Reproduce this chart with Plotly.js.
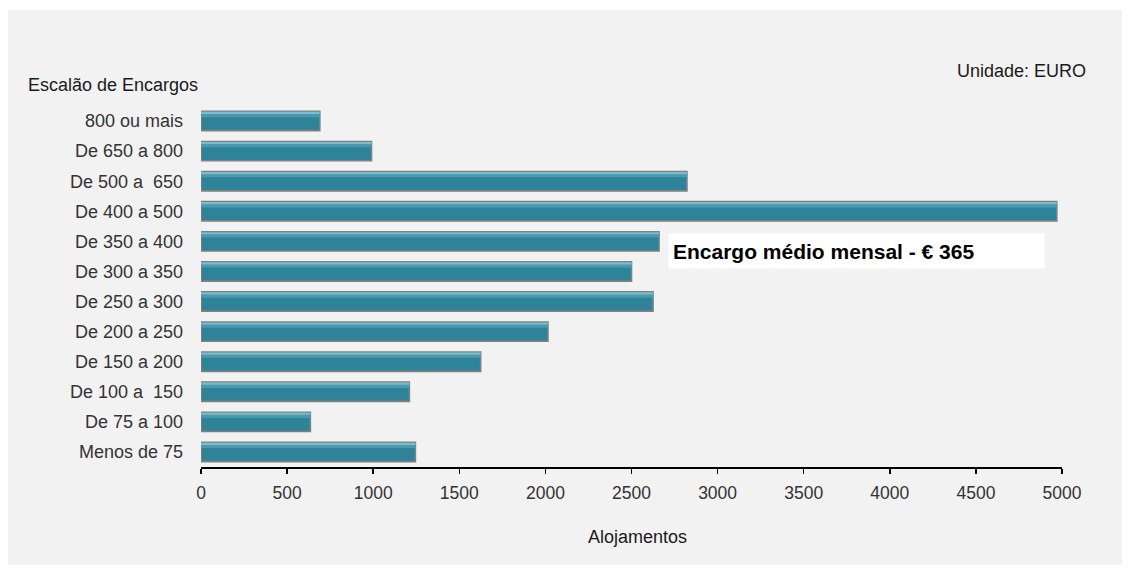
<!DOCTYPE html>
<html>
<head>
<meta charset="utf-8">
<script src="https://cdn.plot.ly/plotly-3.0.1.min.js"></script>
<style>
  html, body { margin: 0; padding: 0; background: #ffffff; }
  #chart { position: absolute; left: 8px; top: 10px; width: 1114px; height: 555px; }
</style>
</head>
<body>
<div id="chart"></div>
<script>
// Categories (bottom to top)
const categories = [
  "Menos de 75", "De 75 a 100", "De 100 a  150", "De 150 a 200", "De 200 a 250",
  "De 250 a 300", "De 300 a 350", "De 350 a 400", "De 400 a 500", "De 500 a  650",
  "De 650 a 800", "800 ou mais"
];
// Alojamentos (number of dwellings)
const alojamentos = [1245, 635, 1210, 1624, 2015, 2625, 2500, 2660, 4970, 2822, 990, 690];
const xTicks = [0, 500, 1000, 1500, 2000, 2500, 3000, 3500, 4000, 4500, 5000];

const font = "Liberation Sans, Arial, sans-serif";

const mainBars = {
  type: "bar", orientation: "h",
  y: categories, x: alojamentos,
  width: 0.64,
  marker: { color: "#2e8399", line: { color: "#808080", width: 1.6 } },
  hoverinfo: "x+y"
};
const hiBand1 = {
  type: "bar", orientation: "h",
  y: categories, x: alojamentos,
  width: 0.12, offset: 0.13,
  marker: { color: "#4a99ae", line: { width: 0 } },
  hoverinfo: "skip"
};
const hiBand2 = {
  type: "bar", orientation: "h",
  y: categories, x: alojamentos,
  width: 0.07, offset: 0.235,
  marker: { color: "#7dbccc", line: { width: 0 } },
  hoverinfo: "skip"
};

const layout = {
  width: 1114, height: 555,
  paper_bgcolor: "#f2f2f2", plot_bgcolor: "#f2f2f2",
  margin: { l: 193, r: 60, t: 96, b: 98 },
  barmode: "overlay",
  showlegend: false,
  font: { family: font, size: 18, color: "#333333" },
  xaxis: {
    range: [0, 5000], tickvals: xTicks, ticktext: xTicks.map(String),
    showgrid: false, zeroline: false,
    showline: true, linecolor: "#000000", linewidth: 2,
    ticks: "outside", ticklen: 5, tickwidth: 1.5, tickcolor: "#000000",
    ticklabelstandoff: 4,
    tickfont: { family: font, size: 17.5, color: "#333333" },
    fixedrange: true
  },
  yaxis: {
    type: "category", categoryorder: "array", categoryarray: categories,
    range: [-0.5, 11.5],
    showgrid: false, zeroline: false, showline: false,
    ticks: "", ticklabelstandoff: 17,
    tickfont: { family: font, size: 18, color: "#333333" },
    fixedrange: true
  },
  annotations: [
    { xref: "paper", yref: "paper", x: -0.2033, y: 1.058, xanchor: "left", yanchor: "middle",
      text: "Escalão de Encargos", showarrow: false, font: { family: font, size: 18, color: "#1a1a1a" } },
    { xref: "paper", yref: "paper", x: 1.030, y: 1.097, xanchor: "right", yanchor: "middle",
      text: "Unidade: EURO", showarrow: false, font: { family: font, size: 18, color: "#1a1a1a" } },
    { xref: "paper", yref: "paper", x: 0.5064, y: -0.194, xanchor: "center", yanchor: "middle",
      text: "Alojamentos", showarrow: false, font: { family: font, size: 18, color: "#1a1a1a" } },
    { xref: "paper", yref: "paper", x: 0.7613, y: 0.598, xanchor: "center", yanchor: "middle",
      text: "<b>Encargo médio mensal - € 365</b>", showarrow: false,
      width: 367, height: 26, align: "left", borderpad: 4, bgcolor: "#ffffff",
      font: { family: font, size: 21, color: "#000000" } }
  ]
};

Plotly.newPlot("chart", [mainBars, hiBand1, hiBand2], layout, { displayModeBar: false, staticPlot: true });
</script>
</body>
</html>
